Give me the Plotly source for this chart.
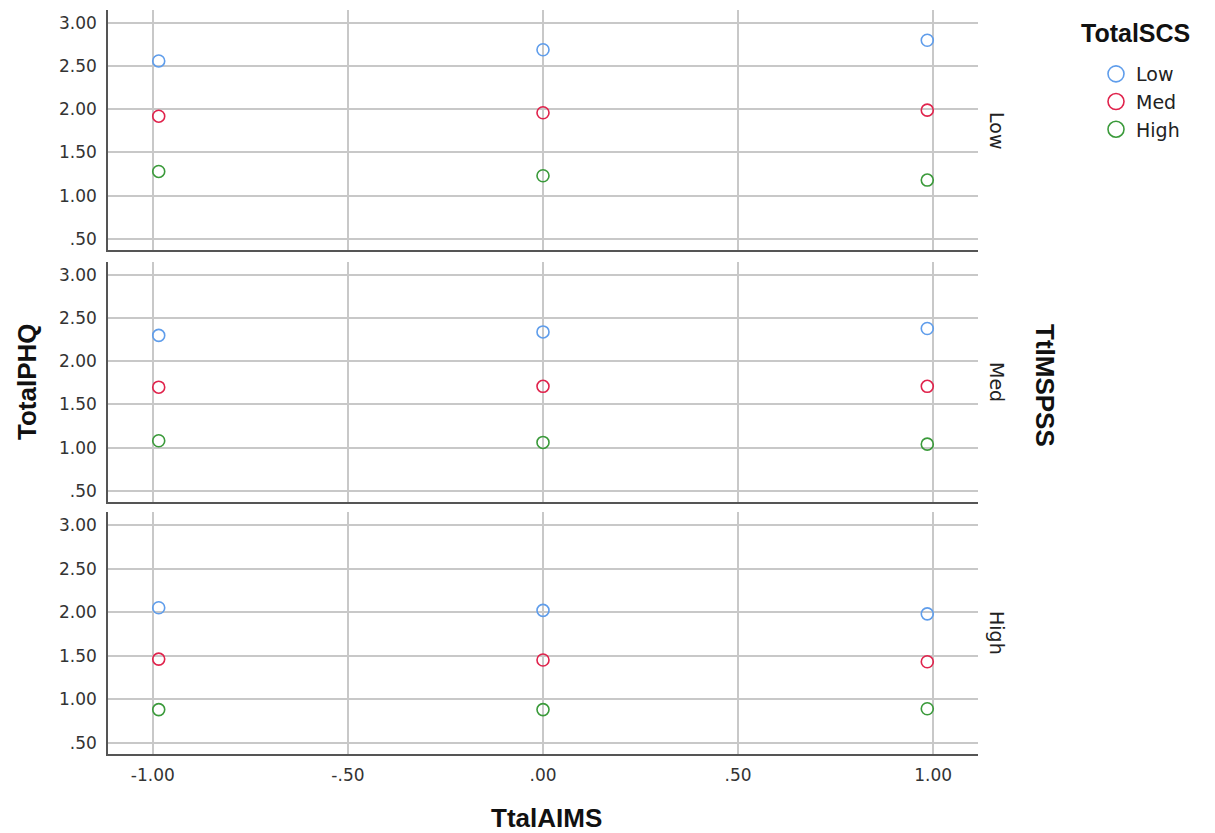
import plotly.graph_objects as go

# Data
x_vals = [-0.985, 0.0, 0.985]
panels = ["Low", "Med", "High"]          # TtlMSPSS
groups = ["Low", "Med", "High"]          # TotalSCS
values = {
    "Low":  {"Low": [2.56, 2.69, 2.80], "Med": [1.92, 1.96, 1.99], "High": [1.28, 1.23, 1.18]},
    "Med":  {"Low": [2.30, 2.34, 2.38], "Med": [1.70, 1.71, 1.71], "High": [1.08, 1.06, 1.04]},
    "High": {"Low": [2.05, 2.02, 1.98], "Med": [1.46, 1.45, 1.43], "High": [0.88, 0.88, 0.89]},
}
x_ticks = [-1.0, -0.5, 0.0, 0.5, 1.0]
x_ticklabels = ["-1.00", "-.50", ".00", ".50", "1.00"]
y_ticks = [0.5, 1.0, 1.5, 2.0, 2.5, 3.0]
y_ticklabels = [".50", "1.00", "1.50", "2.00", "2.50", "3.00"]
colors = {"Low": "#5F9DEB", "Med": "#E0234C", "High": "#3A9A3A"}

OFF = 8  # page body margin
W, H = 1215 - OFF, 833 - OFF

def px(xr):
    return (xr - OFF) / W

def py(yr):
    return 1 - (yr - OFF) / H

panel_px = [(10, 250), (262, 502), (512, 754)]
x_left, x_right = 108, 978

fig = go.Figure()
tick_font = dict(family="DejaVu Sans", size=17, color="#333333")

for i, p in enumerate(panels):
    ax = "" if i == 0 else str(i + 1)
    for g in groups:
        fig.add_trace(go.Scatter(
            x=x_vals, y=values[p][g], mode="markers", name=g,
            legendgroup=g, showlegend=False,
            marker=dict(symbol="circle-open", size=12, color=colors[g],
                        line=dict(width=1.6, color=colors[g])),
            xaxis="x" + ax, yaxis="y" + ax,
        ))
    top, bot = panel_px[i]
    fig.layout["yaxis" + ax] = dict(
        domain=[py(bot), py(top)], range=[0.37, 3.15], tickvals=y_ticks, ticktext=y_ticklabels,
        showgrid=True, gridcolor="#c8c8c8", gridwidth=1.5, zeroline=False,
        showline=True, linecolor="#555555", linewidth=1.5,
        ticks="", tickfont=tick_font, anchor="x" + ax, ticklabelstandoff=6,
    )
    fig.layout["xaxis" + ax] = dict(
        domain=[px(x_left), px(x_right)], range=[-1.115, 1.115],
        tickvals=x_ticks, ticktext=x_ticklabels,
        showticklabels=(i == 2), showgrid=True, gridcolor="#c8c8c8", gridwidth=1.5,
        zeroline=False, showline=True, linecolor="#555555", linewidth=1.5,
        ticks="", tickfont=tick_font, anchor="y" + ax, ticklabelstandoff=5,
    )
    fig.add_annotation(text=p, xref="paper", yref="paper",
                       x=px(997), y=py((top + bot) / 2), showarrow=False,
                       xanchor="center", yanchor="middle",
                       textangle=90, font=dict(family="DejaVu Sans", size=19, color="#222"))

# legend-only traces (larger symbols as in the reference legend)
for g in groups:
    fig.add_trace(go.Scatter(
        x=[None], y=[None], mode="markers", name=g, legendgroup=g,
        marker=dict(symbol="circle-open", size=17, color=colors[g],
                    line=dict(width=1.6, color=colors[g])),
    ))

title_font = dict(family="Liberation Sans", size=26, color="#111")
fig.add_annotation(text="<b>TotalPHQ</b>", xref="paper", yref="paper", x=px(27), y=py(382),
                   xanchor="center", yanchor="middle",
                   showarrow=False, textangle=-90, font=title_font)
fig.add_annotation(text="<b>TtalAIMS</b>", xref="paper", yref="paper", x=px(546), y=py(818),
                   xanchor="center", yanchor="middle",
                   showarrow=False, font=title_font)
fig.add_annotation(text="<b>TtlMSPSS</b>", xref="paper", yref="paper", x=px(1045), y=py(385),
                   xanchor="center", yanchor="middle",
                   showarrow=False, textangle=90, font=title_font)
fig.add_annotation(text="<b>TotalSCS</b>", xref="paper", yref="paper", x=px(1135), y=py(33),
                   xanchor="center", yanchor="middle", showarrow=False,
                   font=dict(family="Liberation Sans", size=25, color="#111"))

fig.update_layout(
    width=W, height=H, margin=dict(l=0, r=0, t=0, b=0),
    plot_bgcolor="white", paper_bgcolor="white",
    legend=dict(x=px(1096), y=py(55), xanchor="left", yanchor="top",
                font=dict(family="DejaVu Sans", size=19, color="#222"),
                tracegroupgap=0, itemwidth=30, bgcolor="rgba(0,0,0,0)"),
)
fig.write_html("out.html")
